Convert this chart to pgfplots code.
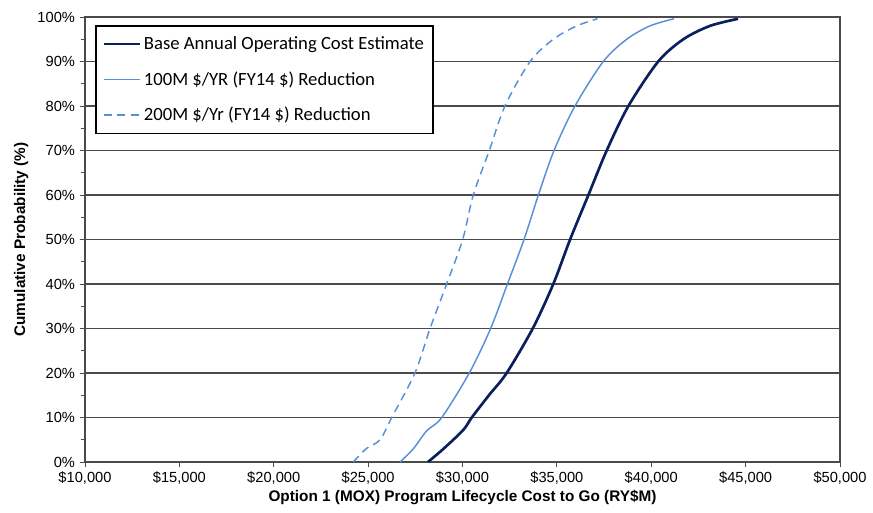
\documentclass[border=0pt]{standalone}
\usepackage{pgfplots}
\pgfplotsset{compat=1.18}
\usepackage{fontspec}
\setmainfont{Liberation Sans}
\newfontfamily\legfont{Carlito}
\definecolor{navy}{HTML}{0B1F5E}
\definecolor{lblue}{HTML}{5590DA}
\definecolor{gridc}{HTML}{4A4A4A}

\begin{document}
\begin{tikzpicture}
  \useasboundingbox (-63.75pt,-37.5pt) rectangle (591pt,346.5pt);
  \begin{axis}[
    at={(0,0)}, anchor=south west,
    scale only axis,
    width=566.25pt, height=333.75pt,
    xmin=10000, xmax=50000,
    ymin=0, ymax=100,
    xtick={10000,15000,...,50000},
    ytick={0,10,...,100},
    minor ytick={5,15,...,95},
    scaled x ticks=false,
    xticklabel={\$\pgfmathprintnumber[fixed,1000 sep={,}]{\tick}},
    yticklabel={\pgfmathprintnumber{\tick}\%},
    /pgf/number format/assume math mode=true,
    tick label style={font=\fontsize{11}{13}\selectfont, text=black},
    tick align=outside,
    major tick length=4pt, minor tick length=3pt,
    tick style={gridc, line width=0.6pt},
    xtick pos=bottom, ytick pos=left,
    axis line style={gridc, line width=0.8pt},
    ymajorgrids=true,
    major grid style={gridc, line width=0.8pt},
    xlabel={\textbf{Option 1 (MOX) Program Lifecycle Cost to Go (RY\$M)}},
    ylabel={\textbf{Cumulative Probability (\%)}},
    label style={font=\fontsize{11.5}{13}\selectfont},
    xlabel style={yshift=3pt},
    legend style={at={(7.5pt,327.75pt)}, anchor=north west,
      draw=black, line width=1.3pt, font=\legfont\fontsize{14}{16}\selectfont,
      inner xsep=5pt, inner ysep=6pt, row sep=11pt, cells={anchor=west}},
    legend cell align=left,
    legend image code/.code={\draw[#1] (0cm,0cm) -- (0.95cm,0cm);},
  ]
    \addplot[navy, line width=2pt, smooth, tension=0.5] coordinates {
      (28170,0) (29000,3) (30040,7.2) (30490,10) (31400,15) (32340,20)
      (33720,30) (34810,40) (35700,50) (36670,60) (37640,70)
      (38790,80) (40370,90) (41700,95) (43110,98) (44600,99.6)
    };
    \addlegendentry{Base Annual Operating Cost Estimate}

    \addplot[lblue, line width=1.1pt, smooth, tension=0.5] coordinates {
      (26690,0) (27400,3) (28100,7) (28900,10) (30360,20)
      (31490,30) (32380,40) (33260,50) (34020,60) (34850,70)
      (35960,80) (37460,90) (38700,95) (39930,98) (41200,99.6)
    };
    \addlegendentry{100M \$/YR (FY14 \$) Reduction}

    \addplot[lblue, line width=1.1pt, dash pattern=on 6pt off 4pt, smooth, tension=0.5] coordinates {
      (24210,0) (24900,3) (25630,5) (26250,10) (27480,20)
      (28280,30) (29160,40) (30010,50) (30570,60) (31420,70)
      (32250,80) (33580,90) (34810,95) (36050,98) (37150,99.6)
    };
    \addlegendentry{200M \$/Yr (FY14 \$) Reduction}
  \end{axis}
\end{tikzpicture}
\end{document}
